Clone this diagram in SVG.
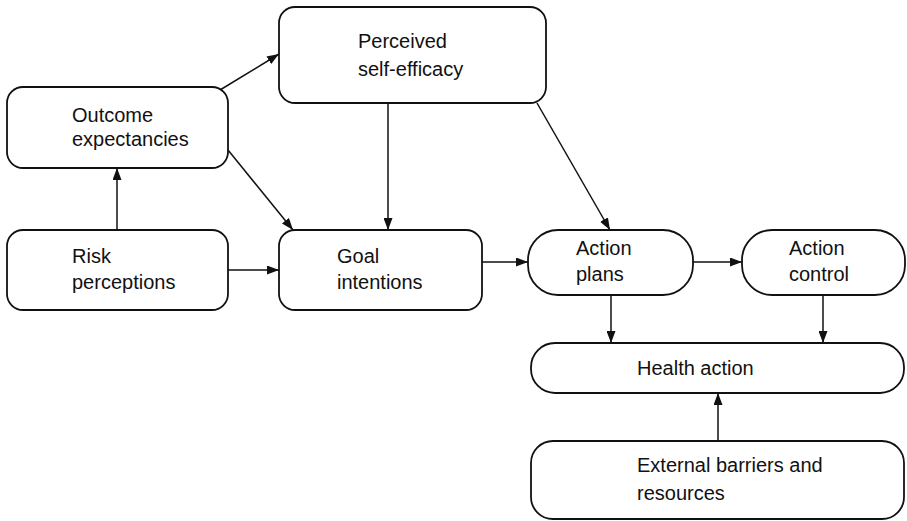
<svg xmlns="http://www.w3.org/2000/svg" width="907" height="521" viewBox="0 0 907 521">
<defs>
<marker id="ah" viewBox="0 0 12 9" refX="12" refY="4.5" markerWidth="12" markerHeight="9" markerUnits="userSpaceOnUse" orient="auto">
<path d="M0,0 L12,4.5 L0,9 z" fill="#111"/>
</marker>
<style>
.box{fill:#fff;stroke:#111;stroke-width:1.8}
.t{font-family:"Liberation Sans",Arial,sans-serif;font-size:20px;fill:#111}
.c{stroke:#111;stroke-width:1.5;fill:none;marker-end:url(#ah)}
</style>
</defs>
<rect width="907" height="521" fill="#fff"/>
<g id="connectors">
<line class="c" x1="220" y1="90" x2="279" y2="54"/>
<line class="c" x1="228" y1="150" x2="293" y2="230"/>
<line class="c" x1="117" y1="230" x2="117" y2="168"/>
<line class="c" x1="388" y1="103" x2="388" y2="230"/>
<line class="c" x1="537" y1="103" x2="610" y2="230"/>
<line class="c" x1="228" y1="270" x2="279" y2="270"/>
<line class="c" x1="482" y1="262" x2="528" y2="262"/>
<line class="c" x1="693" y1="262" x2="742" y2="262"/>
<line class="c" x1="611" y1="295" x2="611" y2="343"/>
<line class="c" x1="823" y1="295" x2="823" y2="343"/>
<line class="c" x1="718" y1="441" x2="718" y2="393"/>
</g>
<g id="perceived">
<rect class="box" x="279" y="7" width="267" height="96" rx="16"/>
<text class="t" x="358" y="48">Perceived</text>
<text class="t" x="358" y="76">self-efficacy</text>
</g>
<g id="outcome">
<rect class="box" x="7" y="87" width="221" height="81" rx="16"/>
<text class="t" x="72" y="122">Outcome</text>
<text class="t" x="72" y="146">expectancies</text>
</g>
<g id="risk">
<rect class="box" x="7" y="230" width="221" height="80" rx="16"/>
<text class="t" x="72" y="263">Risk</text>
<text class="t" x="72" y="289">perceptions</text>
</g>
<g id="goal">
<rect class="box" x="279" y="230" width="203" height="80" rx="16"/>
<text class="t" x="337" y="263">Goal</text>
<text class="t" x="337" y="289">intentions</text>
</g>
<g id="plans">
<rect class="box" x="528" y="230" width="165" height="65" rx="30"/>
<text class="t" x="576" y="255">Action</text>
<text class="t" x="576" y="281">plans</text>
</g>
<g id="control">
<rect class="box" x="742" y="230" width="163" height="65" rx="30"/>
<text class="t" x="789" y="255">Action</text>
<text class="t" x="789" y="281">control</text>
</g>
<g id="health">
<rect class="box" x="531" y="343" width="373" height="50" rx="24"/>
<text class="t" x="637" y="375">Health action</text>
</g>
<g id="external">
<rect class="box" x="531" y="441" width="373" height="78" rx="22"/>
<text class="t" x="637" y="472">External barriers and</text>
<text class="t" x="637" y="500">resources</text>
</g>
</svg>
